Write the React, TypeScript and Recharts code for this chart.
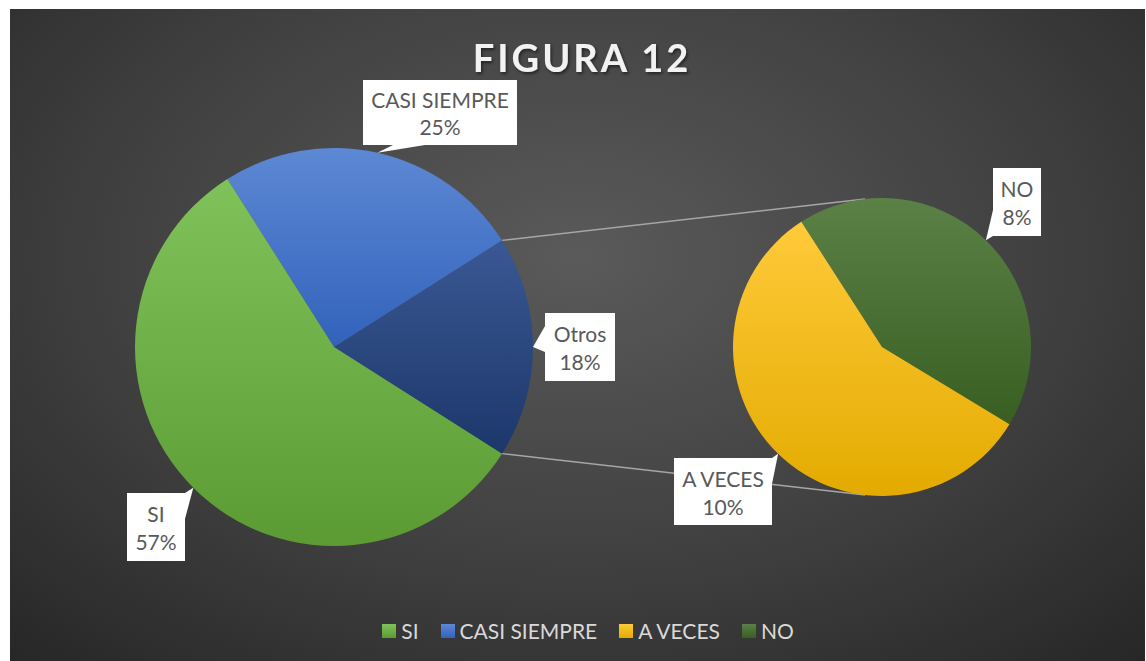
import { Cell, Legend, Pie, PieChart } from "recharts";

// shares of the whole, in percent
const CATEGORIES = ["SI", "CASI SIEMPRE", "A VECES", "NO"];
const VALUES = [57, 25, 10.3, 7.7];
const COLORS = ["#70ad47", "#4472c4", "#ffc000", "#43682b"];
const OTHERS_LABEL = "Otros";
const OTHERS_COLOR = "#264478";

const TITLE = "FIGURA 12";
const FONT = "Lato, 'Open Sans', sans-serif";

const W = 1146;
const H = 661;
const MAIN = { cx: 334, cy: 347, r: 199 };
const SUB = { cx: 882, cy: 347, r: 149, start: -31.2 };

// top / bottom shade of each slice gradient
const SHADES: Record<string, [string, string]> = {
  SI: ["#80c25a", "#5c9b33"],
  "CASI SIEMPRE": ["#5d88d4", "#3262bb"],
  Otros: ["#3a5894", "#1c376a"],
  "A VECES": ["#ffca3a", "#e3ab00"],
  NO: ["#5c8147", "#395e22"],
};

// callout boxes, relative to the centre of their pie
const LABEL_BOX: Record<string, { dx: number; dy: number; w: number; h: number }> = {
  "CASI SIEMPRE": { dx: 29, dy: -267, w: 154, h: 65 },
  Otros: { dx: 211, dy: -34, w: 70, h: 68 },
  SI: { dx: -207, dy: 146, w: 58, h: 68 },
  "A VECES": { dx: -208, dy: 111, w: 98, h: 67 },
  NO: { dx: 111, dy: -179, w: 48, h: 68 },
};

const TOTAL = VALUES.reduce((a, b) => a + b, 0);
const subNames = CATEGORIES.slice(2);
const subValues = VALUES.slice(2);
const othersValue = subValues.reduce((a, b) => a + b, 0);

// main pie starts with the "Otros" slice centred on the right
const mainData = [
  { name: OTHERS_LABEL, value: othersValue, color: OTHERS_COLOR },
  { name: CATEGORIES[1], value: VALUES[1], color: COLORS[1] },
  { name: CATEGORIES[0], value: VALUES[0], color: COLORS[0] },
];
const subData = [
  { name: subNames[1], value: subValues[1], color: COLORS[3] },
  { name: subNames[0], value: subValues[0], color: COLORS[2] },
];

const halfOthers = ((othersValue / TOTAL) * 360) / 2;
const RAD = Math.PI / 180;

const gradId = (name: string) => "g-" + name.replace(/\s+/g, "-");

// point where a line from (px, py) touches the sub pie
function tangent(px: number, py: number, side: 1 | -1) {
  const vx = px - SUB.cx;
  const vy = py - SUB.cy;
  const d = Math.hypot(vx, vy);
  const phi = Math.atan2(vy, vx);
  const a = phi + side * Math.acos(SUB.r / d);
  return { x: SUB.cx + SUB.r * Math.cos(a), y: SUB.cy + SUB.r * Math.sin(a) };
}

function renderCallout(props: any) {
  const { cx, cy, midAngle, outerRadius, payload, value } = props;
  const name = payload?.name ?? props.name;
  const box = LABEL_BOX[name];
  if (!box) return null;
  const tx = cx + outerRadius * Math.cos(-midAngle * RAD);
  const ty = cy + outerRadius * Math.sin(-midAngle * RAD);
  const x = cx + box.dx;
  const y = cy + box.dy;
  const { w, h } = box;

  // pointer from the nearest edge of the box to the slice
  const outX = tx < x ? x - tx : tx > x + w ? tx - (x + w) : 0;
  const outY = ty < y ? y - ty : ty > y + h ? ty - (y + h) : 0;
  let pts: number[][];
  if (outX >= outY) {
    const ex = tx < x ? x : x + w;
    const base = Math.min(26, h * 0.4);
    const c = Math.max(y + base / 2, Math.min(y + h - base / 2, ty - 8));
    pts = [[ex, c - base / 2], [tx, ty], [ex, c + base / 2]];
  } else {
    const ey = ty < y ? y : y + h;
    const base = Math.min(32, w * 0.4);
    const c = Math.max(x + base / 2 + 30, Math.min(x + w - base / 2, tx));
    pts = [[c - base / 2, ey], [tx, ty], [c + base / 2, ey]];
  }
  const pct = Math.round((value / TOTAL) * 100) + "%";

  return (
    <g>
      <rect x={x} y={y} width={w} height={h} fill="#ffffff" />
      <polygon points={pts.map((p) => p.join(",")).join(" ")} fill="#ffffff" />
      <text
        x={x + w / 2}
        y={y + h * 0.3}
        textAnchor="middle"
        dominantBaseline="central"
        fontFamily={FONT}
        fontSize={21}
        fill="#595959"
      >
        {name}
      </text>
      <text
        x={x + w / 2}
        y={y + h * 0.72}
        textAnchor="middle"
        dominantBaseline="central"
        fontFamily={FONT}
        fontSize={21}
        fill="#595959"
      >
        {pct}
      </text>
    </g>
  );
}

function renderLegend() {
  return (
    <div
      style={{
        display: "flex",
        justifyContent: "center",
        alignItems: "center",
        gap: 22,
        fontFamily: FONT,
        fontSize: 21,
        color: "#d9d9d9",
        paddingLeft: 30,
      }}
    >
      {CATEGORIES.map((c) => (
        <div key={c} style={{ display: "flex", alignItems: "center", gap: 5 }}>
          <span
            style={{
              display: "inline-block",
              width: 14,
              height: 14,
              background: `linear-gradient(${SHADES[c][0]}, ${SHADES[c][1]})`,
            }}
          />
          <span>{c}</span>
        </div>
      ))}
    </div>
  );
}

export default function App() {
  const a1 = halfOthers * RAD;
  const p1 = { x: MAIN.cx + MAIN.r * Math.cos(a1), y: MAIN.cy - MAIN.r * Math.sin(a1) };
  const p2 = { x: MAIN.cx + MAIN.r * Math.cos(a1), y: MAIN.cy + MAIN.r * Math.sin(a1) };
  const t1 = tangent(p1.x, p1.y, 1);
  const t2 = tangent(p2.x, p2.y, -1);
  const subAngle = (subValues.reduce((a, b) => a + b, 0) / othersValue) * 360;

  return (
    <div style={{ position: "absolute", left: 0, top: 0, width: W, height: H }}>
      <div
        style={{
          position: "absolute",
          left: 10,
          top: 9,
          width: 1135,
          height: 652,
          background: "radial-gradient(ellipse 75% 85% at 50% 38%, #5a5a5a 0%, #404040 55%, #262626 100%)",
        }}
      />
      <svg width={W} height={H} style={{ position: "absolute", left: 0, top: 0 }}>
        <defs>
          <filter id="shadow" x="-10%" y="-20%" width="120%" height="160%">
            <feDropShadow dx="1.5" dy="2" stdDeviation="1.5" floodColor="#000" floodOpacity="0.5" />
          </filter>
        </defs>
        <text
          x={582}
          y={57}
          textAnchor="middle"
          dominantBaseline="central"
          fontFamily={FONT}
          fontWeight={700}
          fontSize={38}
          letterSpacing={3}
          fill="#f2f2f2"
          filter="url(#shadow)"
        >
          {TITLE}
        </text>
        <line x1={p1.x} y1={p1.y} x2={t1.x} y2={t1.y} stroke="#a6a6a6" strokeWidth={1.5} />
        <line x1={p2.x} y1={p2.y} x2={t2.x} y2={t2.y} stroke="#a6a6a6" strokeWidth={1.5} />
      </svg>
      <div style={{ position: "absolute", left: 0, top: 0 }}>
        <PieChart width={W} height={H} margin={{ top: 0, right: 0, bottom: 0, left: 0 }}>
          <defs>
            {Object.keys(SHADES).map((k) => (
              <linearGradient key={k} id={gradId(k)} x1="0" y1="0" x2="0" y2="1">
                <stop offset="0%" stopColor={SHADES[k][0]} />
                <stop offset="100%" stopColor={SHADES[k][1]} />
              </linearGradient>
            ))}
          </defs>
          <Pie
            data={mainData}
            dataKey="value"
            nameKey="name"
            cx={MAIN.cx}
            cy={MAIN.cy}
            outerRadius={MAIN.r}
            startAngle={-halfOthers}
            endAngle={360 - halfOthers}
            stroke="none"
            label={renderCallout}
            labelLine={false}
            isAnimationActive={false}
          >
            {mainData.map((d) => (
              <Cell key={d.name} fill={`url(#${gradId(d.name)})`} />
            ))}
          </Pie>
          <Pie
            data={subData}
            dataKey="value"
            nameKey="name"
            cx={SUB.cx}
            cy={SUB.cy}
            outerRadius={SUB.r}
            startAngle={SUB.start}
            endAngle={SUB.start + subAngle}
            stroke="none"
            label={renderCallout}
            labelLine={false}
            isAnimationActive={false}
          >
            {subData.map((d) => (
              <Cell key={d.name} fill={`url(#${gradId(d.name)})`} />
            ))}
          </Pie>
          <Legend
            content={renderLegend}
            wrapperStyle={{ position: "absolute", top: 618, left: 0, width: W }}
          />
        </PieChart>
      </div>
    </div>
  );
}
